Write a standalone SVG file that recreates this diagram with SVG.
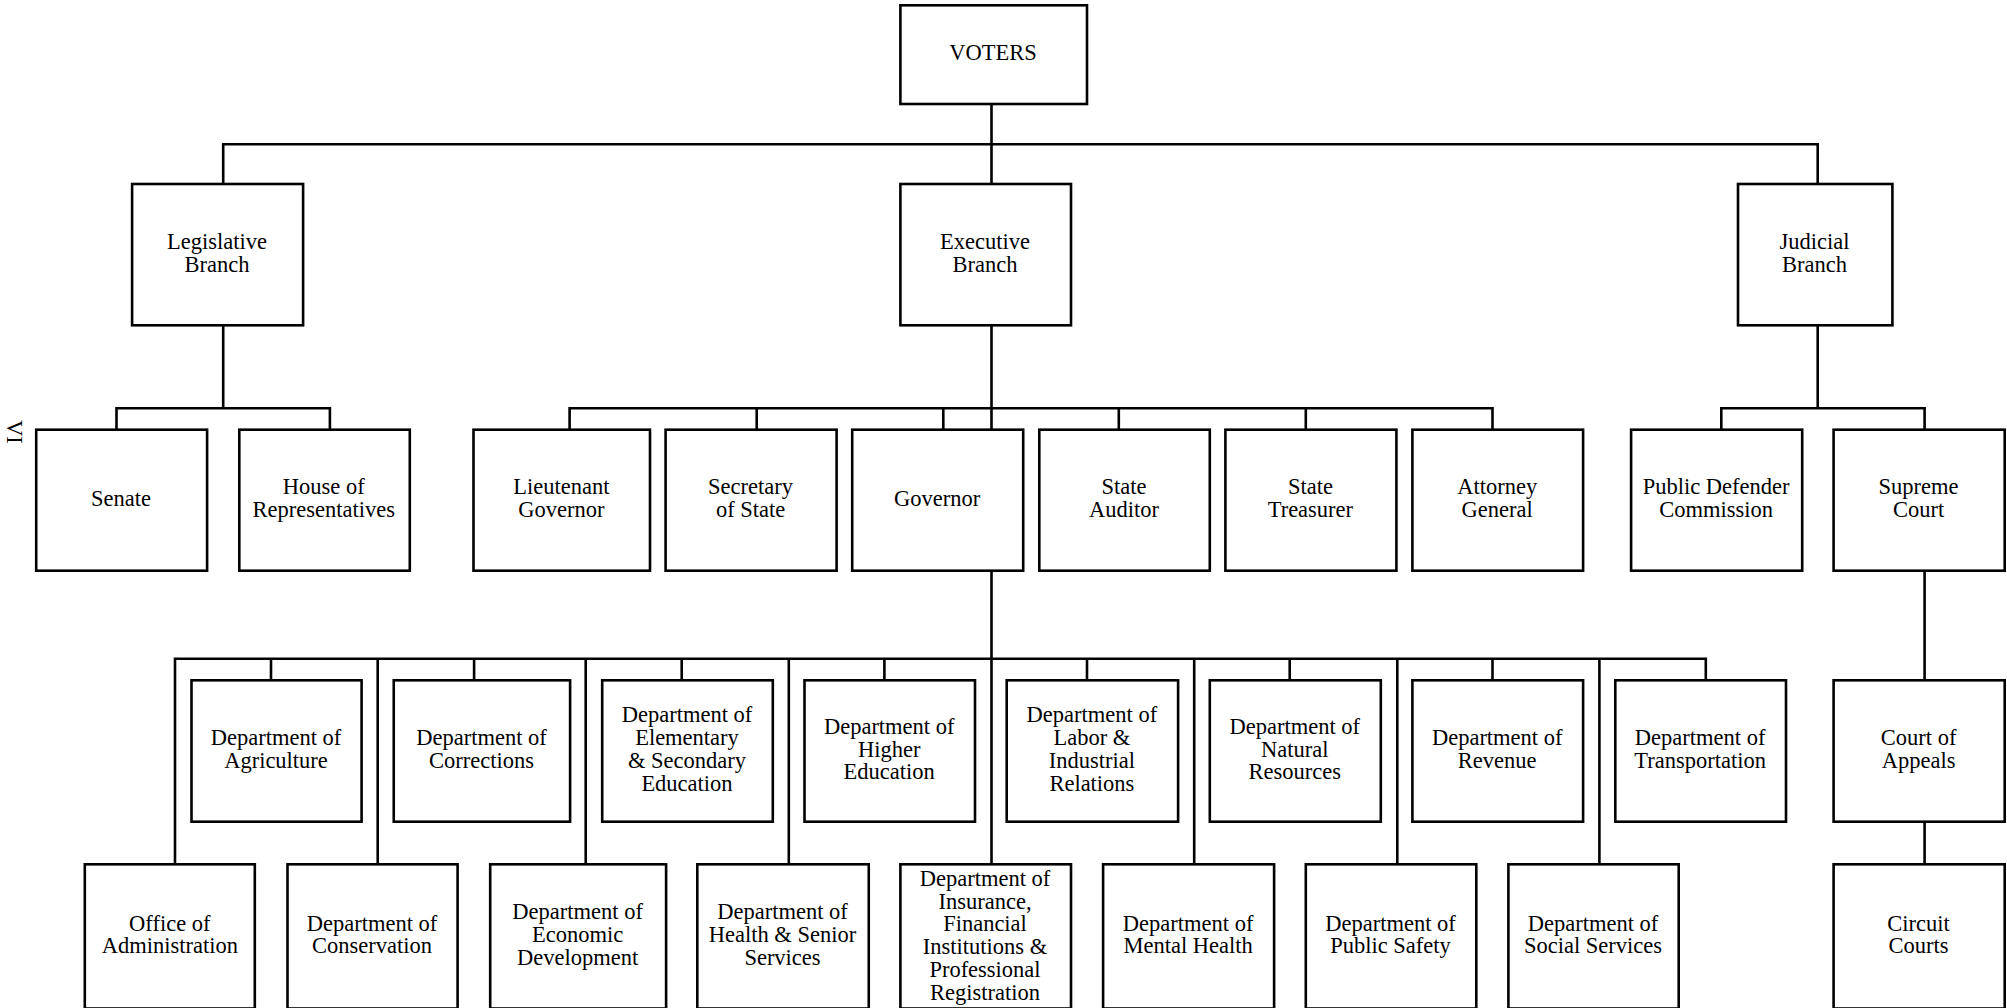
<svg xmlns="http://www.w3.org/2000/svg" width="2007" height="1008" viewBox="0 0 2007 1008">
<style>
.box{fill:#fff;stroke:#000;stroke-width:2.6}
.t{font-family:"Liberation Serif","Times New Roman",serif;font-size:22.5px;fill:#000;text-anchor:middle}
.c{fill:none;stroke:#000;stroke-width:2.6;stroke-linecap:square}
</style>
<rect width="2007" height="1008" fill="#fff"/>
<g id="connectors">
<path class="c" d="M223.2 144.3H1817.7 M223.2 144.3V184 M991.5 104V184 M1817.7 144.3V184"/>
<path class="c" d="M223.2 325.3V408.3 M116.5 408.3H329.9 M116.5 408.3V429.7 M329.9 408.3V429.7"/>
<path class="c" d="M991.5 325.3V429.7 M569.6 408.3H1492.5 M569.6 408.3V429.7 M756.7 408.3V429.7 M943.3 408.3V429.7 M1118.8 408.3V429.7 M1305.8 408.3V429.7 M1492.5 408.3V429.7"/>
<path class="c" d="M1817.7 325.3V408.3 M1721.3 408.3H1924.6 M1721.3 408.3V429.7 M1924.6 408.3V429.7"/>
<path class="c" d="M991.5 570.7V864.3 M175 658.7H1705.8 M271 658.7V680.3 M474.1 658.7V680.3 M681.7 658.7V680.3 M884.4 658.7V680.3 M1087 658.7V680.3 M1289.7 658.7V680.3 M1492.5 658.7V680.3 M1705.8 658.7V680.3 M175 658.7V864.3 M377.7 658.7V864.3 M585.7 658.7V864.3 M788.8 658.7V864.3 M1194.2 658.7V864.3 M1397.3 658.7V864.3 M1599.4 658.7V864.3"/>
<path class="c" d="M1924.6 570.7V680.3 M1924.6 821.7V864.3"/>
</g>
<text class="t" transform="translate(7,420) rotate(90)" style="text-anchor:start">VI</text>
<g id="voters"><rect class="box" x="900.4" y="5.3" width="186.6" height="98.7"/><text class="t" x="993" y="60">VOTERS</text></g>
<g id="legislative"><rect class="box" x="132.1" y="184" width="171" height="141.3"/><text class="t" x="217" y="248.8">Legislative<tspan x="217" dy="22.7">Branch</tspan></text></g>
<g id="executive"><rect class="box" x="900.4" y="184" width="170.6" height="141.3"/><text class="t" x="985" y="248.8">Executive<tspan x="985" dy="22.7">Branch</tspan></text></g>
<g id="judicial"><rect class="box" x="1738" y="184" width="154.4" height="141.3"/><text class="t" x="1814.5" y="248.8">Judicial<tspan x="1814.5" dy="22.7">Branch</tspan></text></g>

<g id="senate"><rect class="box" x="36.2" y="429.7" width="170.9" height="141"/><text class="t" x="121" y="505.7">Senate</text></g>
<g id="house"><rect class="box" x="239.3" y="429.7" width="170.5" height="141"/><text class="t" x="323.8" y="494.35">House of<tspan x="323.8" dy="22.7">Representatives</tspan></text></g>
<g id="lieutenant"><rect class="box" x="473.5" y="429.7" width="176.5" height="141"/><text class="t" x="561.3" y="494.35">Lieutenant<tspan x="561.3" dy="22.7">Governor</tspan></text></g>
<g id="secretary"><rect class="box" x="665.6" y="429.7" width="171" height="141"/><text class="t" x="750.6" y="494.35">Secretary<tspan x="750.6" dy="22.7">of State</tspan></text></g>
<g id="governor"><rect class="box" x="852.2" y="429.7" width="171" height="141"/><text class="t" x="937.2" y="505.7">Governor</text></g>
<g id="auditor"><rect class="box" x="1039.3" y="429.7" width="170.5" height="141"/><text class="t" x="1124" y="494.35">State<tspan x="1124" dy="22.7">Auditor</tspan></text></g>
<g id="treasurer"><rect class="box" x="1225.4" y="429.7" width="171" height="141"/><text class="t" x="1310.4" y="494.35">State<tspan x="1310.4" dy="22.7">Treasurer</tspan></text></g>
<g id="attorney"><rect class="box" x="1412.4" y="429.7" width="170.7" height="141"/><text class="t" x="1497.2" y="494.35">Attorney<tspan x="1497.2" dy="22.7">General</tspan></text></g>
<g id="defender"><rect class="box" x="1631.1" y="429.7" width="171.1" height="141"/><text class="t" x="1716.1" y="494.35">Public Defender<tspan x="1716.1" dy="22.7">Commission</tspan></text></g>
<g id="supreme"><rect class="box" x="1833.6" y="429.7" width="171.1" height="141"/><text class="t" x="1918.6" y="494.35">Supreme<tspan x="1918.6" dy="22.7">Court</tspan></text></g>

<g id="agriculture"><rect class="box" x="191.5" y="680.3" width="170.1" height="141.4"/><text class="t" x="276" y="745.15">Department of<tspan x="276" dy="22.7">Agriculture</tspan></text></g>
<g id="corrections"><rect class="box" x="393.75" y="680.3" width="176.35" height="141.4"/><text class="t" x="481.5" y="745.15">Department of<tspan x="481.5" dy="22.7">Corrections</tspan></text></g>
<g id="elementary"><rect class="box" x="602.2" y="680.3" width="170.6" height="141.4"/><text class="t" x="687" y="722.45">Department of<tspan x="687" dy="22.7">Elementary</tspan><tspan x="687" dy="22.7">&amp; Secondary</tspan><tspan x="687" dy="22.7">Education</tspan></text></g>
<g id="higher"><rect class="box" x="804.5" y="680.3" width="170.5" height="141.4"/><text class="t" x="889.2" y="733.8">Department of<tspan x="889.2" dy="22.7">Higher</tspan><tspan x="889.2" dy="22.7">Education</tspan></text></g>
<g id="labor"><rect class="box" x="1006.7" y="680.3" width="171.4" height="141.4"/><text class="t" x="1091.9" y="722.45">Department of<tspan x="1091.9" dy="22.7">Labor &amp;</tspan><tspan x="1091.9" dy="22.7">Industrial</tspan><tspan x="1091.9" dy="22.7">Relations</tspan></text></g>
<g id="natural"><rect class="box" x="1209.8" y="680.3" width="171" height="141.4"/><text class="t" x="1294.8" y="733.8">Department of<tspan x="1294.8" dy="22.7">Natural</tspan><tspan x="1294.8" dy="22.7">Resources</tspan></text></g>
<g id="revenue"><rect class="box" x="1412.4" y="680.3" width="170.7" height="141.4"/><text class="t" x="1497.2" y="745.15">Department of<tspan x="1497.2" dy="22.7">Revenue</tspan></text></g>
<g id="transportation"><rect class="box" x="1615.3" y="680.3" width="170.7" height="141.4"/><text class="t" x="1700.1" y="745.15">Department of<tspan x="1700.1" dy="22.7">Transportation</tspan></text></g>
<g id="appeals"><rect class="box" x="1833.6" y="680.3" width="171.1" height="141.4"/><text class="t" x="1918.6" y="745.15">Court of<tspan x="1918.6" dy="22.7">Appeals</tspan></text></g>

<g id="administration"><rect class="box" x="84.8" y="864.3" width="170" height="144.2"/><text class="t" x="169.8" y="930.5">Office of<tspan x="169.8" dy="22.7">Administration</tspan></text></g>
<g id="conservation"><rect class="box" x="287.5" y="864.3" width="170.1" height="144.2"/><text class="t" x="372" y="930.5">Department of<tspan x="372" dy="22.7">Conservation</tspan></text></g>
<g id="economic"><rect class="box" x="490.2" y="864.3" width="175.9" height="144.2"/><text class="t" x="577.6" y="919.2">Department of<tspan x="577.6" dy="22.7">Economic</tspan><tspan x="577.6" dy="22.7">Development</tspan></text></g>
<g id="health"><rect class="box" x="697.3" y="864.3" width="171.45" height="144.2"/><text class="t" x="782.5" y="919.2">Department of<tspan x="782.5" dy="22.7">Health &amp; Senior</tspan><tspan x="782.5" dy="22.7">Services</tspan></text></g>
<g id="insurance"><rect class="box" x="900.4" y="864.3" width="170.6" height="144.2"/><text class="t" x="985" y="886">Department of<tspan x="985" dy="22.7">Insurance,</tspan><tspan x="985" dy="22.7">Financial</tspan><tspan x="985" dy="22.7">Institutions &amp;</tspan><tspan x="985" dy="22.7">Professional</tspan><tspan x="985" dy="22.7">Registration</tspan></text></g>
<g id="mental"><rect class="box" x="1103.1" y="864.3" width="171" height="144.2"/><text class="t" x="1188.1" y="930.5">Department of<tspan x="1188.1" dy="22.7">Mental Health</tspan></text></g>
<g id="safety"><rect class="box" x="1305.8" y="864.3" width="170.5" height="144.2"/><text class="t" x="1390.5" y="930.5">Department of<tspan x="1390.5" dy="22.7">Public Safety</tspan></text></g>
<g id="social"><rect class="box" x="1508.4" y="864.3" width="170.3" height="144.2"/><text class="t" x="1593" y="930.5">Department of<tspan x="1593" dy="22.7">Social Services</tspan></text></g>
<g id="circuit"><rect class="box" x="1833.6" y="864.3" width="171.1" height="144.2"/><text class="t" x="1918.6" y="930.5">Circuit<tspan x="1918.6" dy="22.7">Courts</tspan></text></g>
</svg>
